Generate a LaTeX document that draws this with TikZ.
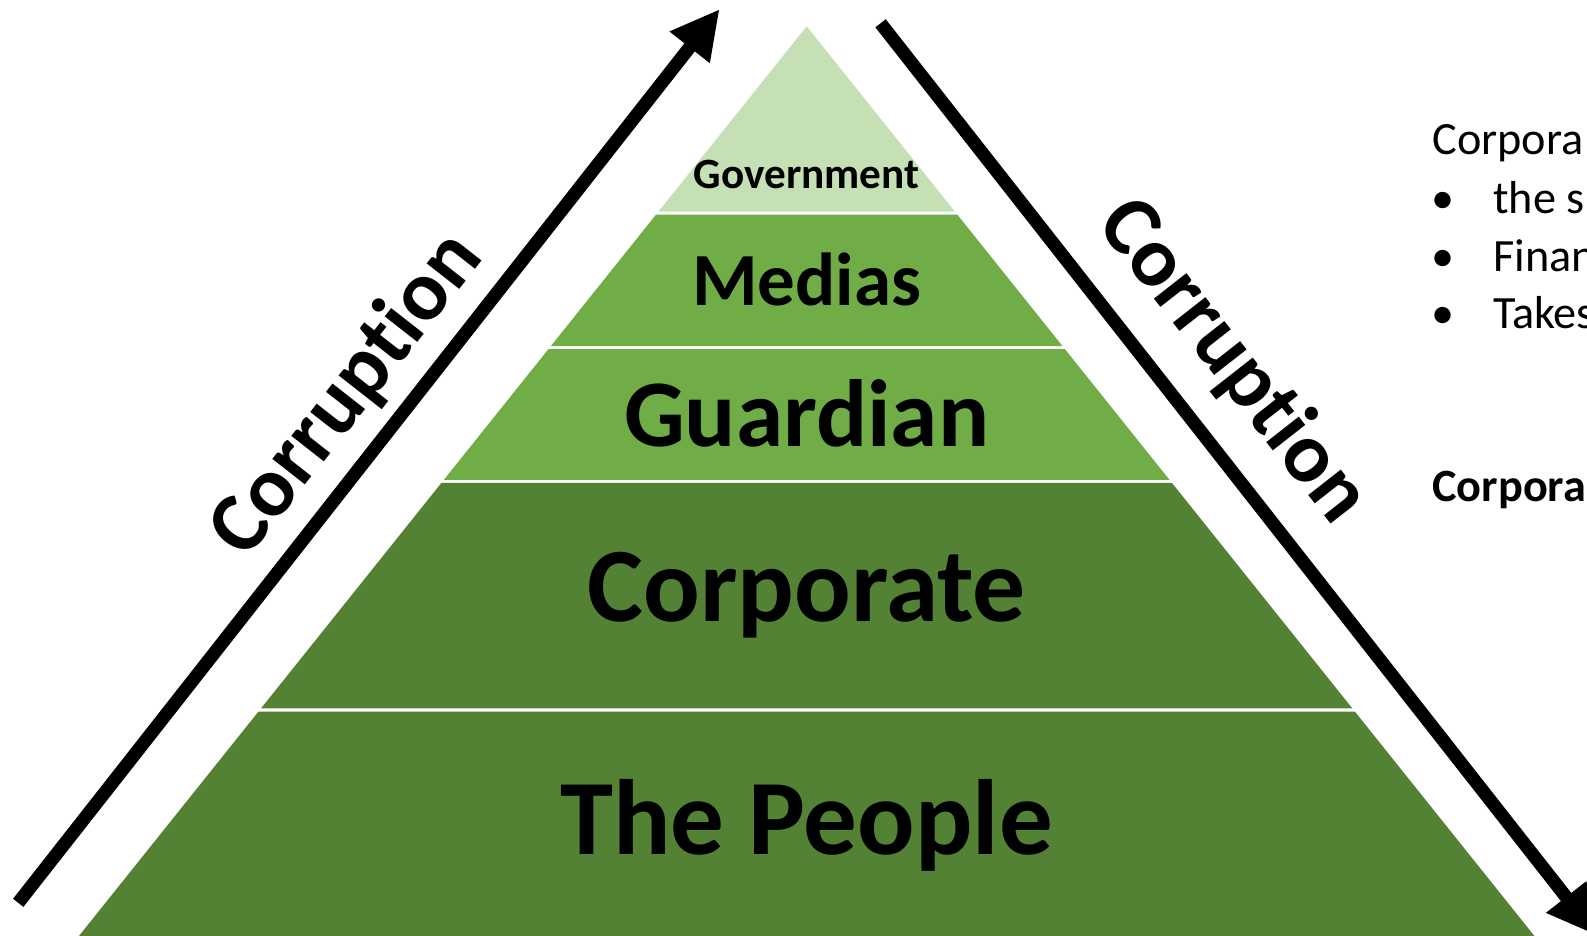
\documentclass[tikz,border=0pt]{standalone}
\usepackage{fontspec}
\setmainfont{Carlito}[Ligatures=NoCommon]
\usetikzlibrary{arrows.meta}
\definecolor{govgreen}{HTML}{C5E0B4}
\definecolor{midgreen}{HTML}{70AD47}
\definecolor{darkgreen}{HTML}{548235}

\begin{document}
\begin{tikzpicture}[x=0.02cm, y=-0.02cm,
    level/.style={font=\bfseries\fontsize{#1}{#1}\selectfont, inner sep=0pt},
    corr/.style={line width=0.26cm, -{Triangle[width=0.94cm, length=0.96cm]}},
    slant/.style={font=\bfseries\fontsize{48}{48}\selectfont, inner sep=0pt},
    side/.style={font=\fontsize{26}{31}\selectfont, anchor=base west, inner sep=0pt}]
  \useasboundingbox (0,0) rectangle (1568,924);
  \begin{scope}
    \clip (0,0) rectangle (1568,924);
    \foreach \t/\b/\c in {26/209/govgreen, 212/342/midgreen, 345/474/midgreen, 477/700/darkgreen, 703/960/darkgreen}
      \fill[\c] ({797-0.8*(\t-26)},\t) -- ({797+0.8*(\t-26)},\t) -- ({797+0.8*(\b-26)},\b) -- ({797-0.8*(\b-26)},\b) -- cycle;
    \coordinate (up-tail) at (18,892);
    \coordinate (up-tip) at (711,9);
    \coordinate (down-tail) at (870,23);
    \coordinate (down-tip) at (1577,924);
    \draw[corr] (up-tail) -- (up-tip);
    \draw[corr] (down-tail) -- (down-tip);
    \node[level=24.3pt] (gov) at (797,172) {Government};
    \node[level=42.2pt] (medias) at (797,276) {Medias};
    \node[level=53.7pt] (guardian) at (797,408) {Guardian};
    \node[level=59.4pt] (corporate) at (797,588) {Corporate};
    \node[level=60.2pt] (people) at (797,815) {The People};
    \node[slant, rotate=51.9] (corr-up) at (343,390) {Corruption};
    \node[slant, rotate=-51.9] (corr-down) at (1218,357) {Corruption};
    \node[side] (note) at (1415,153) {Corpora};
    \node[side] (dot1) at (1414,211) {•};
    \node[side] (dot2) at (1414,268) {•};
    \node[side] (dot3) at (1414,325) {•};
    \node[side] (item1) at (1475,211) {the s};
    \node[side] (item2) at (1475,268) {Finan};
    \node[side] (item3) at (1475,325) {Takes};
    \node[side, font=\bfseries\fontsize{26}{31}\selectfont] (note-bold) at (1415,495) {Corpora};
  \end{scope}
\end{tikzpicture}
\end{document}
